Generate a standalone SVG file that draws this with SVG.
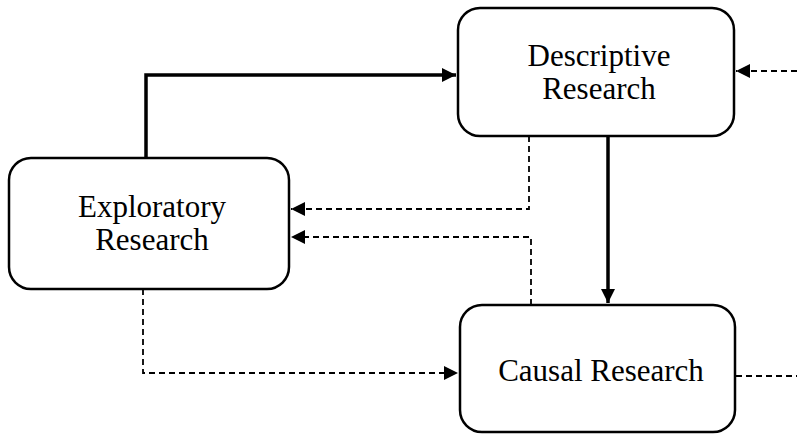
<svg xmlns="http://www.w3.org/2000/svg" width="797" height="435" viewBox="0 0 797 435">
<style>
.box{fill:#fff;stroke:#000;stroke-width:2.5}
.lbl{font-family:"Liberation Serif","Times New Roman",serif;font-size:31px;fill:#000;text-anchor:middle}
.solid{fill:none;stroke:#000;stroke-width:3.5}
.dash{fill:none;stroke:#000;stroke-width:1.8;stroke-dasharray:6 4}
</style>
<defs>
<marker id="ah" viewBox="0 0 10 10" refX="10" refY="5" markerUnits="userSpaceOnUse" markerWidth="15" markerHeight="14" orient="auto">
<path d="M0,0 L10,5 L0,10 Z" fill="#000"/>
</marker>
</defs>
<rect width="797" height="435" fill="#fff"/>
<g id="connectors">
<path class="solid" d="M146,158 V75 H456" marker-end="url(#ah)"/>
<path class="solid" d="M608,136 V303" marker-end="url(#ah)"/>
<path class="dash" d="M529,136 V209 H291" marker-end="url(#ah)"/>
<path class="dash" d="M531,305 V237 H291" marker-end="url(#ah)"/>
<path class="dash" d="M143,289 V373 H458" marker-end="url(#ah)"/>
<path class="dash" d="M797,71 H736" marker-end="url(#ah)"/>
<path class="dash" d="M736,376 H797"/>
</g>
<g id="descriptive">
<rect class="box" x="458" y="8" width="276" height="128" rx="22"/>
<text class="lbl" x="599" y="66">Descriptive</text>
<text class="lbl" x="599" y="99">Research</text>
</g>
<g id="exploratory">
<rect class="box" x="9" y="158" width="280" height="131" rx="22"/>
<text class="lbl" x="152" y="217">Exploratory</text>
<text class="lbl" x="152" y="250">Research</text>
</g>
<g id="causal">
<rect class="box" x="460" y="305" width="275" height="127" rx="22"/>
<text class="lbl" x="601" y="381">Causal Research</text>
</g>
</svg>
